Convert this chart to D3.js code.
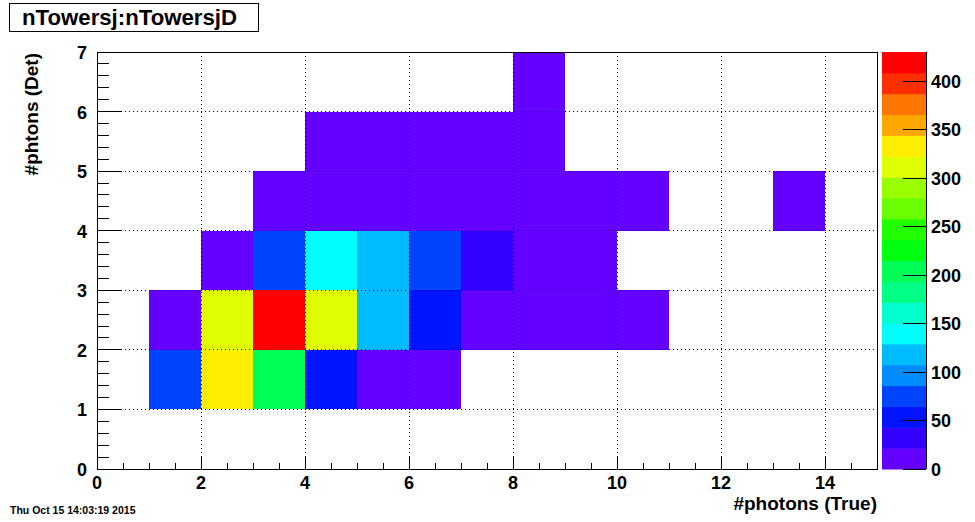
<!DOCTYPE html>
<html>
<head>
<meta charset="utf-8">
<script src="https://cdn.jsdelivr.net/npm/d3@7"></script>
<style>
  html, body { margin: 0; padding: 0; background: #fff; }
  svg { display: block; }
  text { font-family: "Liberation Sans", Arial, Helvetica, sans-serif; font-weight: bold; fill: #000; }
</style>
</head>
<body>
<svg id="chart" width="975" height="522"></svg>
<script>
// ---------------- data ----------------
const chartTitle = "nTowersj:nTowersjD";
const xTitle = "#photons (True)";
const yTitle = "#phtons (Det)";
const dateStamp = "Thu Oct 15 14:03:19 2015";

// x bins: 0..15 (unit width), y bins: 0..7 (unit height)
const xEdges = [0, 15];
const yEdges = [0, 7];
const xTickLabels = [0, 2, 4, 6, 8, 10, 12, 14];
const yTickLabels = [0, 1, 2, 3, 4, 5, 6, 7];
const zTickLabels = [0, 50, 100, 150, 200, 250, 300, 350, 400];

// counts per detector bin (row), one value per true bin x = 0..14
const detBin0 = [0, 0, 0, 0, 0, 0, 0, 0, 0, 0, 0, 0, 0, 0, 0];
const detBin1 = [0, 75, 335, 205, 55, 8, 6, 0, 0, 0, 0, 0, 0, 0, 0];
const detBin2 = [0, 12, 312, 430, 308, 118, 50, 10, 8, 5, 3, 0, 0, 0, 0];
const detBin3 = [0, 0, 10, 80, 140, 115, 72, 30, 12, 5, 0, 0, 0, 0, 0];
const detBin4 = [0, 0, 0, 4, 8, 10, 8, 6, 5, 3, 2, 0, 0, 1, 0];
const detBin5 = [0, 0, 0, 0, 3, 4, 3, 2, 1, 0, 0, 0, 0, 0, 0];
const detBin6 = [0, 0, 0, 0, 0, 0, 0, 0, 1, 0, 0, 0, 0, 0, 0];
const rows = [detBin0, detBin1, detBin2, detBin3, detBin4, detBin5, detBin6];

// ---------------- layout ----------------
const frame = { left: 97, right: 877, top: 52, bottom: 469 };
const pal = { left: 882, right: 926 };
const nContours = 20, nColors = 50;

const svg = d3.select("#chart");

const x = d3.scaleLinear().domain(xEdges).range([frame.left, frame.right]);
const y = d3.scaleLinear().domain(yEdges).range([frame.bottom, frame.top]);

const cells = [];
rows.forEach((row, j) => row.forEach((v, i) => { if (v > 0) cells.push({ i, j, v }); }));
const zMax = d3.max(cells, d => d.v);
const z = d3.scaleLinear().domain([0, zMax]).range([frame.bottom, frame.top]);

// ROOT-like palette (hue from violet to red), 20 contour levels
function levelColor(k) {
  const idx = Math.floor((k + 0.99) * nColors / nContours);
  const hue = 280 - (idx + 1) * (280 / nColors);
  return d3.hsl(hue, 1, 0.5).formatHex();
}
function colorOf(v) {
  let k = Math.floor(0.01 + v * nContours / zMax);
  if (k > nContours - 1) k = nContours - 1;
  return levelColor(k);
}

// frame background
svg.append("rect").attr("x", frame.left).attr("y", frame.top)
  .attr("width", frame.right - frame.left).attr("height", frame.bottom - frame.top)
  .attr("fill", "#fff");

// cells
svg.append("g").selectAll("rect").data(cells).join("rect")
  .attr("x", d => x(d.i))
  .attr("y", d => y(d.j + 1))
  .attr("width", d => x(d.i + 1) - x(d.i))
  .attr("height", d => y(d.j) - y(d.j + 1))
  .attr("fill", d => colorOf(d.v))
  .attr("shape-rendering", "crispEdges");

// grid (dotted)
const grid = svg.append("g").attr("stroke", "#000").attr("stroke-width", 1)
  .attr("stroke-dasharray", "1,3").attr("shape-rendering", "crispEdges");
xTickLabels.filter(t => t > 0).forEach(t => {
  grid.append("line").attr("x1", x(t)).attr("x2", x(t)).attr("y1", frame.top).attr("y2", frame.bottom);
});
yTickLabels.filter(t => t > 0 && t < 7).forEach(t => {
  grid.append("line").attr("x1", frame.left).attr("x2", frame.right).attr("y1", y(t)).attr("y2", y(t));
});

// frame border
svg.append("rect").attr("x", frame.left + 0.5).attr("y", frame.top + 0.5)
  .attr("width", frame.right - frame.left).attr("height", frame.bottom - frame.top)
  .attr("fill", "none").attr("stroke", "#000").attr("stroke-width", 1);

// x axis ticks (inside)
const xMinor = d3.range(0, 15.001, 0.5);
const xAxisG = svg.append("g").attr("stroke", "#000").attr("shape-rendering", "crispEdges");
xMinor.forEach(t => {
  const major = Math.abs(t / 2 - Math.round(t / 2)) < 1e-6;
  xAxisG.append("line").attr("x1", x(t)).attr("x2", x(t))
    .attr("y1", frame.bottom).attr("y2", frame.bottom - (major ? 12 : 6.5));
});
svg.append("g").selectAll("text").data(xTickLabels).join("text")
  .attr("x", d => x(d)).attr("y", frame.bottom + 20)
  .attr("text-anchor", "middle").attr("font-size", 18).text(d => d);

// y axis ticks (inside)
const yMinor = d3.range(0, 7.001, 0.2);
const yAxisG = svg.append("g").attr("stroke", "#000").attr("shape-rendering", "crispEdges");
yMinor.forEach(t => {
  const major = Math.abs(t - Math.round(t)) < 1e-6;
  yAxisG.append("line").attr("x1", frame.left).attr("x2", frame.left + (major ? 24 : 12))
    .attr("y1", y(t)).attr("y2", y(t));
});
svg.append("g").selectAll("text").data(yTickLabels).join("text")
  .attr("x", frame.left - 10).attr("y", d => y(d) + 7)
  .attr("text-anchor", "end").attr("font-size", 18).text(d => d);

// palette
const levels = d3.range(nContours);
svg.append("g").selectAll("rect").data(levels).join("rect")
  .attr("x", pal.left).attr("width", pal.right - pal.left)
  .attr("y", k => z(zMax * (k + 1) / nContours))
  .attr("height", k => z(zMax * k / nContours) - z(zMax * (k + 1) / nContours) + 0.5)
  .attr("fill", k => levelColor(k));
svg.append("line").attr("x1", pal.right + 0.5).attr("x2", pal.right + 0.5)
  .attr("y1", frame.top).attr("y2", frame.bottom).attr("stroke", "#000");
const zG = svg.append("g").attr("stroke", "#000").attr("shape-rendering", "crispEdges");
zTickLabels.forEach(t => {
  zG.append("line").attr("x1", pal.right - 23).attr("x2", pal.right)
    .attr("y1", z(t)).attr("y2", z(t));
});
svg.append("g").selectAll("text").data(zTickLabels).join("text")
  .attr("x", pal.right + 5).attr("y", d => z(d) + 6.5)
  .attr("text-anchor", "start").attr("font-size", 18).text(d => d);

// axis titles
svg.append("text").attr("x", frame.right).attr("y", 510)
  .attr("text-anchor", "end").attr("font-size", 19).text(xTitle);
svg.append("text").attr("transform", `translate(38, ${frame.top + 1}) rotate(-90)`)
  .attr("text-anchor", "end").attr("font-size", 19).text(yTitle);

// title box
svg.append("rect").attr("x", 9.5).attr("y", 3.5).attr("width", 249).attr("height", 28)
  .attr("fill", "#fff").attr("stroke", "#000");
svg.append("text").attr("x", 22).attr("y", 25).attr("font-size", 22)
  .attr("textLength", 215).attr("lengthAdjust", "spacingAndGlyphs").text(chartTitle);

// date stamp
svg.append("text").attr("x", 10).attr("y", 514).attr("font-size", 10.5).text(dateStamp);
</script>
</body>
</html>
